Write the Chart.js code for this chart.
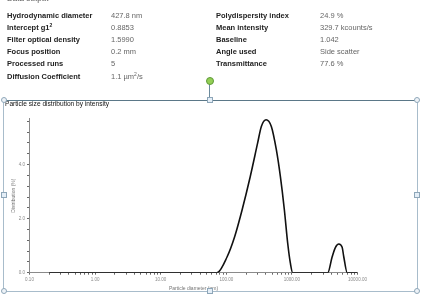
<!DOCTYPE html>
<html>
<head>
<meta charset="utf-8">
<script src="https://cdn.jsdelivr.net/npm/chart.js@4"></script>
<style>
  html,body{margin:0;padding:0;background:#fff;}
  body{width:421px;height:299px;position:relative;overflow:hidden;font-family:"Liberation Sans",Arial,sans-serif;}
  #wrap{position:absolute;left:0;top:0;width:421px;height:299px;}
  .t{position:absolute;white-space:nowrap;line-height:12.2px;}
  .lab{font-weight:bold;color:#222;font-size:7.5px;}
  .val{color:#666;font-size:7.5px;}
  .frame{position:absolute;}
  .h-circ{position:absolute;width:6px;height:6px;border-radius:50%;background:#eef3f8;border:1px solid #8ea6b8;box-sizing:border-box;}
  .h-sq{position:absolute;width:6px;height:6px;background:#e4eef7;border:1px solid #8ea6b8;box-sizing:border-box;}
</style>
</head>
<body>
<div id="wrap"><canvas id="c" width="421" height="299"></canvas></div>

<div class="t" style="left:7px;top:-7px;font-size:8px;color:#555;">Data output</div>

<div class="t lab" style="left:7px;top:9.6px;">Hydrodynamic diameter<br>Intercept g1<sup style="font-size:5px;vertical-align:3px;line-height:0">2</sup><br>Filter optical density<br>Focus position<br>Processed runs<br>Diffusion Coefficient</div>
<div class="t val" style="left:111px;top:9.6px;">427.8 nm<br>0.8853<br>1.5990<br>0.2 mm<br>5<br>1.1 µm<sup style="font-size:5px;vertical-align:3px;line-height:0">2</sup>/s</div>
<div class="t lab" style="left:216px;top:9.6px;">Polydispersity index<br>Mean intensity<br>Baseline<br>Angle used<br>Transmittance</div>
<div class="t val" style="left:320px;top:9.6px;">24.9 %<br>329.7 kcounts/s<br>1.042<br>Side scatter<br>77.6 %</div>

<div class="t" style="left:5px;top:98.3px;font-size:6.6px;color:#111;line-height:12px;">Particle size distribution by intensity</div>

<!-- selection frame -->
<div class="frame" style="left:3px;top:99.5px;width:414px;height:1.3px;background:#5b7888;"></div>
<div class="frame" style="left:3px;top:100px;width:1px;height:191px;background:#a8bccb;"></div>
<div class="frame" style="left:416.5px;top:100px;width:1px;height:191px;background:#a8bccb;"></div>
<div class="frame" style="left:3px;top:290.5px;width:414px;height:1px;background:#a8bccb;"></div>
<div class="frame" style="left:209px;top:84px;width:1px;height:13px;background:#6b8a9c;"></div>
<div class="frame" style="left:205.5px;top:77px;width:8px;height:8px;border-radius:50%;background:#93cf55;border:1px solid #5f9a3a;box-sizing:border-box;"></div>
<div class="h-circ" style="left:0.5px;top:97px;"></div>
<div class="h-circ" style="left:414px;top:97px;"></div>
<div class="h-circ" style="left:0.5px;top:287.5px;"></div>
<div class="h-circ" style="left:414px;top:287.5px;"></div>
<div class="h-sq" style="left:206.5px;top:97px;"></div>
<div class="h-sq" style="left:206.5px;top:287.5px;"></div>
<div class="h-sq" style="left:0.5px;top:192px;"></div>
<div class="h-sq" style="left:414px;top:192px;"></div>

<script>
// Particle diameter (nm) and intensity distribution (%)
const diameters = [0.2, 72, 103, 134, 174, 232, 300, 342, 404, 486, 580, 667, 768, 863, 948, 1028, 3524, 4110, 4615, 5185, 5835, 6175, 6965, 10000];
const distribution = [0, 0, 0.59, 1.33, 2.32, 3.56, 4.79, 5.41, 5.66, 5.41, 4.54, 3.56, 2.32, 1.09, 0.35, 0, 0, 0.59, 0.94, 1.06, 0.94, 0.59, 0, 0];
const xTickValues = [0.1, 1, 10, 100, 1000, 10000];
const yTickLabels = [0, 2, 4];

const points = diameters.map((d, i) => ({x: d, y: distribution[i]}));
const tickFont = {family: "Liberation Sans, Arial, sans-serif", size: 4.5};
const grey = '#8a8a8a';

new Chart(document.getElementById('c'), {
  type: 'line',
  data: {datasets: [{
    data: points,
    borderColor: '#111',
    borderWidth: 1.6,
    pointRadius: 0,
    fill: false,
    cubicInterpolationMode: 'monotone'
  }]},
  options: {
    responsive: false,
    animation: false,
    devicePixelRatio: 1,
    layout: {padding: {left: 0, right: 63.5, top: 118.6, bottom: 0}},
    plugins: {legend: {display: false}, tooltip: {enabled: false}},
    scales: {
      x: {
        type: 'logarithmic',
        min: 0.1, max: 10000,
        afterBuildTicks: s => {
          const t = [];
          for (let e = -1; e < 4; e++) for (let m = 1; m < 10; m++) t.push({value: m * Math.pow(10, e)});
          t.push({value: 10000});
          s.ticks = t;
        },
        afterFit: s => { s.height = 26.3; },
        ticks: {
          autoSkip: false, maxRotation: 0, padding: 2.5, color: grey, font: tickFont,
          callback: v => {
            const hit = xTickValues.find(p => Math.abs(p - v) / p < 1e-6);
            return hit !== undefined ? hit.toFixed(2) : '';
          }
        },
        grid: {drawOnChartArea: false, drawTicks: true, tickLength: 2, color: '#666'},
        border: {color: grey, width: 1},
        title: {display: true, text: 'Particle diameter (nm)', color: '#777', font: {family: tickFont.family, size: 5}, padding: {top: 0, bottom: 7}}
      },
      y: {
        min: 0, max: 5.7,
        afterBuildTicks: s => {
          const t = [];
          for (let i = 0; i <= 14; i++) t.push({value: +(i * 0.4).toFixed(1)});
          s.ticks = t;
        },
        afterFit: s => { s.width = 29.5; },
        ticks: {
          autoSkip: false, padding: 2, color: grey, font: tickFont,
          callback: v => yTickLabels.some(l => Math.abs(l - v) < 1e-6) ? v.toFixed(1) : ''
        },
        grid: {drawOnChartArea: false, drawTicks: true, tickLength: 2.5, color: '#666'},
        border: {color: grey, width: 1},
        title: {display: true, text: 'Distribution (%)', color: '#777', font: {family: tickFont.family, size: 5}, padding: {top: 11, bottom: 0}}
      }
    }
  }
});
</script>
</body>
</html>
